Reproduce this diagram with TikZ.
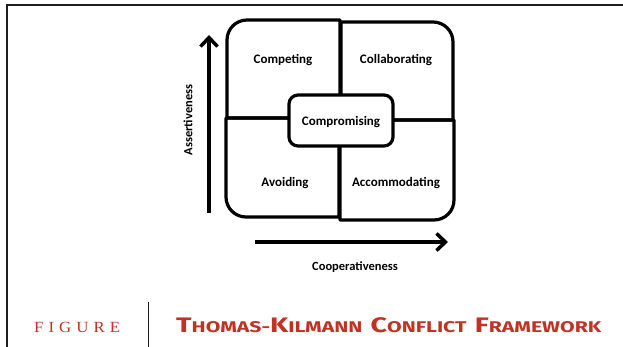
\documentclass[tikz,border=0pt]{standalone}
\usepackage{fontspec}
\setmainfont{Carlito}
\newfontfamily\titlefont{Fira Sans}
\newfontfamily\figfont[LetterSpace=30]{Liberation Serif}
\usetikzlibrary{arrows.meta}
\definecolor{capred}{RGB}{192,50,36}
\definecolor{frameg}{RGB}{30,30,30}
\newcommand\bigsc[2]{{\fontsize{21}{21}\selectfont #1}{\fontsize{15.5}{15.5}\selectfont #2}}
\begin{document}
\begin{tikzpicture}[x=1pt,y=1pt,
  quad/.style={line width=3.2pt, line join=round},
  lbl/.style={font=\fontsize{13}{15}\selectfont\bfseries, inner sep=0pt},
  axlbl/.style={font=\fontsize{12.5}{15}\selectfont\bfseries, inner sep=0pt},
  axis/.style={line width=4pt, -{Straight Barb[length=9pt,width=17pt,line width=3.5pt]}}]
\useasboundingbox (0,0) rectangle (623,347);
% frame
\coordinate (f1) at (7,0);
\coordinate (f2) at (7,342);
\coordinate (f3) at (623,342);
\draw[frameg, line width=1.5pt] (f1) -- (f2) -- (f3);
% quadrants
\draw[quad] (340,229) -- (227,229) -- (227,307) arc[start angle=180,end angle=90,radius=20] -- (340,327) -- cycle;
\draw[quad] (341,227) -- (341,325) -- (433,325) arc[start angle=90,end angle=0,radius=20] -- (453,227) -- cycle;
\draw[quad] (339,229) -- (226,229) -- (226,150) arc[start angle=180,end angle=270,radius=20] -- (339,130) -- cycle;
\draw[quad] (340,227) -- (454,227) -- (454,147) arc[start angle=0,end angle=-90,radius=20] -- (340,127) -- cycle;
\node[quad, draw, fill=white, rounded corners=9pt, minimum width=104pt, minimum height=51pt, inner sep=0pt] (comp) at (341,226.5) {};
\node[lbl] (competing) at (283,287) {Competing};
\node[lbl] (collab) at (396,287) {Collaborating};
\node[lbl] (compr) at (341,225) {Compromising};
\node[lbl] (avoid) at (285,164) {Avoiding};
\node[lbl] (accom) at (396,164) {Accommodating};
% axes
\coordinate (ya) at (209,134);
\coordinate (yb) at (209,312);
\draw[axis] (ya) -- (yb);
\node[axlbl, rotate=90] (assert) at (188,227) {Assertiveness};
\coordinate (xa) at (255,105);
\coordinate (xb) at (448,105);
\draw[axis] (xa) -- (xb);
\node[axlbl] (coop) at (355,80) {Cooperativeness};
% caption
\coordinate (d1) at (148,0);
\coordinate (d2) at (148,45);
\draw[frameg, line width=1pt] (d1) -- (d2);
\node[anchor=base west, inner sep=0pt, text=capred, font=\figfont\fontsize{15.5}{16}\selectfont] (fig) at (34,14) {\resizebox{86pt}{\height}{FIGURE}};
\node[anchor=base west, inner sep=0pt, text=capred, font=\titlefont\bfseries] (title) at (176,14) {\resizebox{425pt}{\height}{\bigsc{T}{HOMAS-}\bigsc{K}{ILMANN}\hspace{6pt}\bigsc{C}{ONFLICT}\hspace{6pt}\bigsc{F}{RAMEWORK}}};
\end{tikzpicture}
\end{document}
